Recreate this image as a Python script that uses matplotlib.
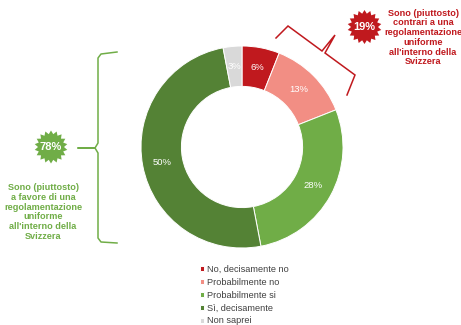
import numpy as np
import matplotlib.pyplot as plt
from matplotlib.patches import Polygon

plt.rcParams['font.family'] = ['Liberation Sans', 'DejaVu Sans']

labels = ['No, decisamente no', 'Probabilmente no', 'Probabilmente si',
          'Sì, decisamente', 'Non saprei']
values = [6, 13, 28, 50, 3]
colors = ['#C0191E', '#F28E84', '#70AD47', '#548235', '#D9D9D9']

favore_pct = '78%'
contrari_pct = '19%'
favore_txt = "Sono (piuttosto)\na favore di una\nregolamentazione\nuniforme\nall'interno della\nSvizzera"
contrari_txt = "Sono (piuttosto)\ncontrari a una\nregolamentazione\nuniforme\nall'interno della\nSvizzera"

W, H = 461, 325
fig = plt.figure(figsize=(W / 100, H / 100), dpi=100)

# donut
cx, cy, r = 242, 147, 101
ax = fig.add_axes([(cx - r) / W, 1 - (cy + r) / H, 2 * r / W, 2 * r / H])
wedges, _, autotexts = ax.pie(values, colors=colors, startangle=90, counterclock=False,
                              autopct=lambda p: f'{p:.0f}%', pctdistance=0.8,
                              wedgeprops=dict(width=0.4, edgecolor='white', linewidth=0.7),
                              textprops=dict(color='white', fontsize=6.8))
ax.set_xlim(-1, 1)
ax.set_ylim(-1, 1)
ax.set_aspect('equal')

fig.legend(wedges, labels, loc='upper left', bbox_to_anchor=(200 / W, 1 - 265 / H),
           frameon=False, fontsize=6.6, handlelength=0.45, handleheight=0.45,
           handletextpad=0.35, labelspacing=0.42, borderpad=0, borderaxespad=0,
           labelcolor='#404040')

# overlay in pixel coords for brackets and badges
ov = fig.add_axes([0, 0, 1, 1], facecolor='none')
ov.set_xlim(0, W)
ov.set_ylim(H, 0)
ov.axis('off')


def star(x0, y0, ro, ri, n, color):
    a = np.linspace(0, 2 * np.pi, 2 * n, endpoint=False) - np.pi / 2
    rr = np.where(np.arange(2 * n) % 2 == 0, ro, ri)
    pts = np.column_stack([x0 + rr * np.cos(a), y0 + rr * np.sin(a)])
    ov.add_patch(Polygon(pts, closed=True, facecolor=color, edgecolor='none'))


green = '#70AD47'
red = '#C0191E'

# green brace
gx = [117, 101, 98, 98, 95, 78, 95, 98, 98, 101, 117]
gy = [52, 54, 58, 143, 148, 148, 148, 153, 238, 242, 243]
ov.plot(gx, gy, color=green, lw=1.1, solid_joinstyle='round')
star(51, 147, 16.5, 13, 18, green)
ov.text(51, 147.5, favore_pct, color='white', fontsize=8, fontweight='bold',
        ha='center', va='center')
ov.text(43, 212, favore_txt, color=green, fontsize=6.6, fontweight='bold',
        ha='center', va='center', linespacing=1.1)

# red brace
rx = [276, 288, 322, 335, 325, 355, 347]
ry = [38, 26, 51, 35, 53, 75, 95]
ov.plot(rx, ry, color=red, lw=1.1, solid_joinstyle='miter')
star(364.5, 27, 17, 13.5, 18, red)
ov.text(364.5, 27.5, contrari_pct, color='white', fontsize=8, fontweight='bold',
        ha='center', va='center')
ov.text(423, 37.5, contrari_txt, color=red, fontsize=6.6, fontweight='bold',
        ha='center', va='center', linespacing=1.1)

fig.savefig('out.png', dpi=100)
